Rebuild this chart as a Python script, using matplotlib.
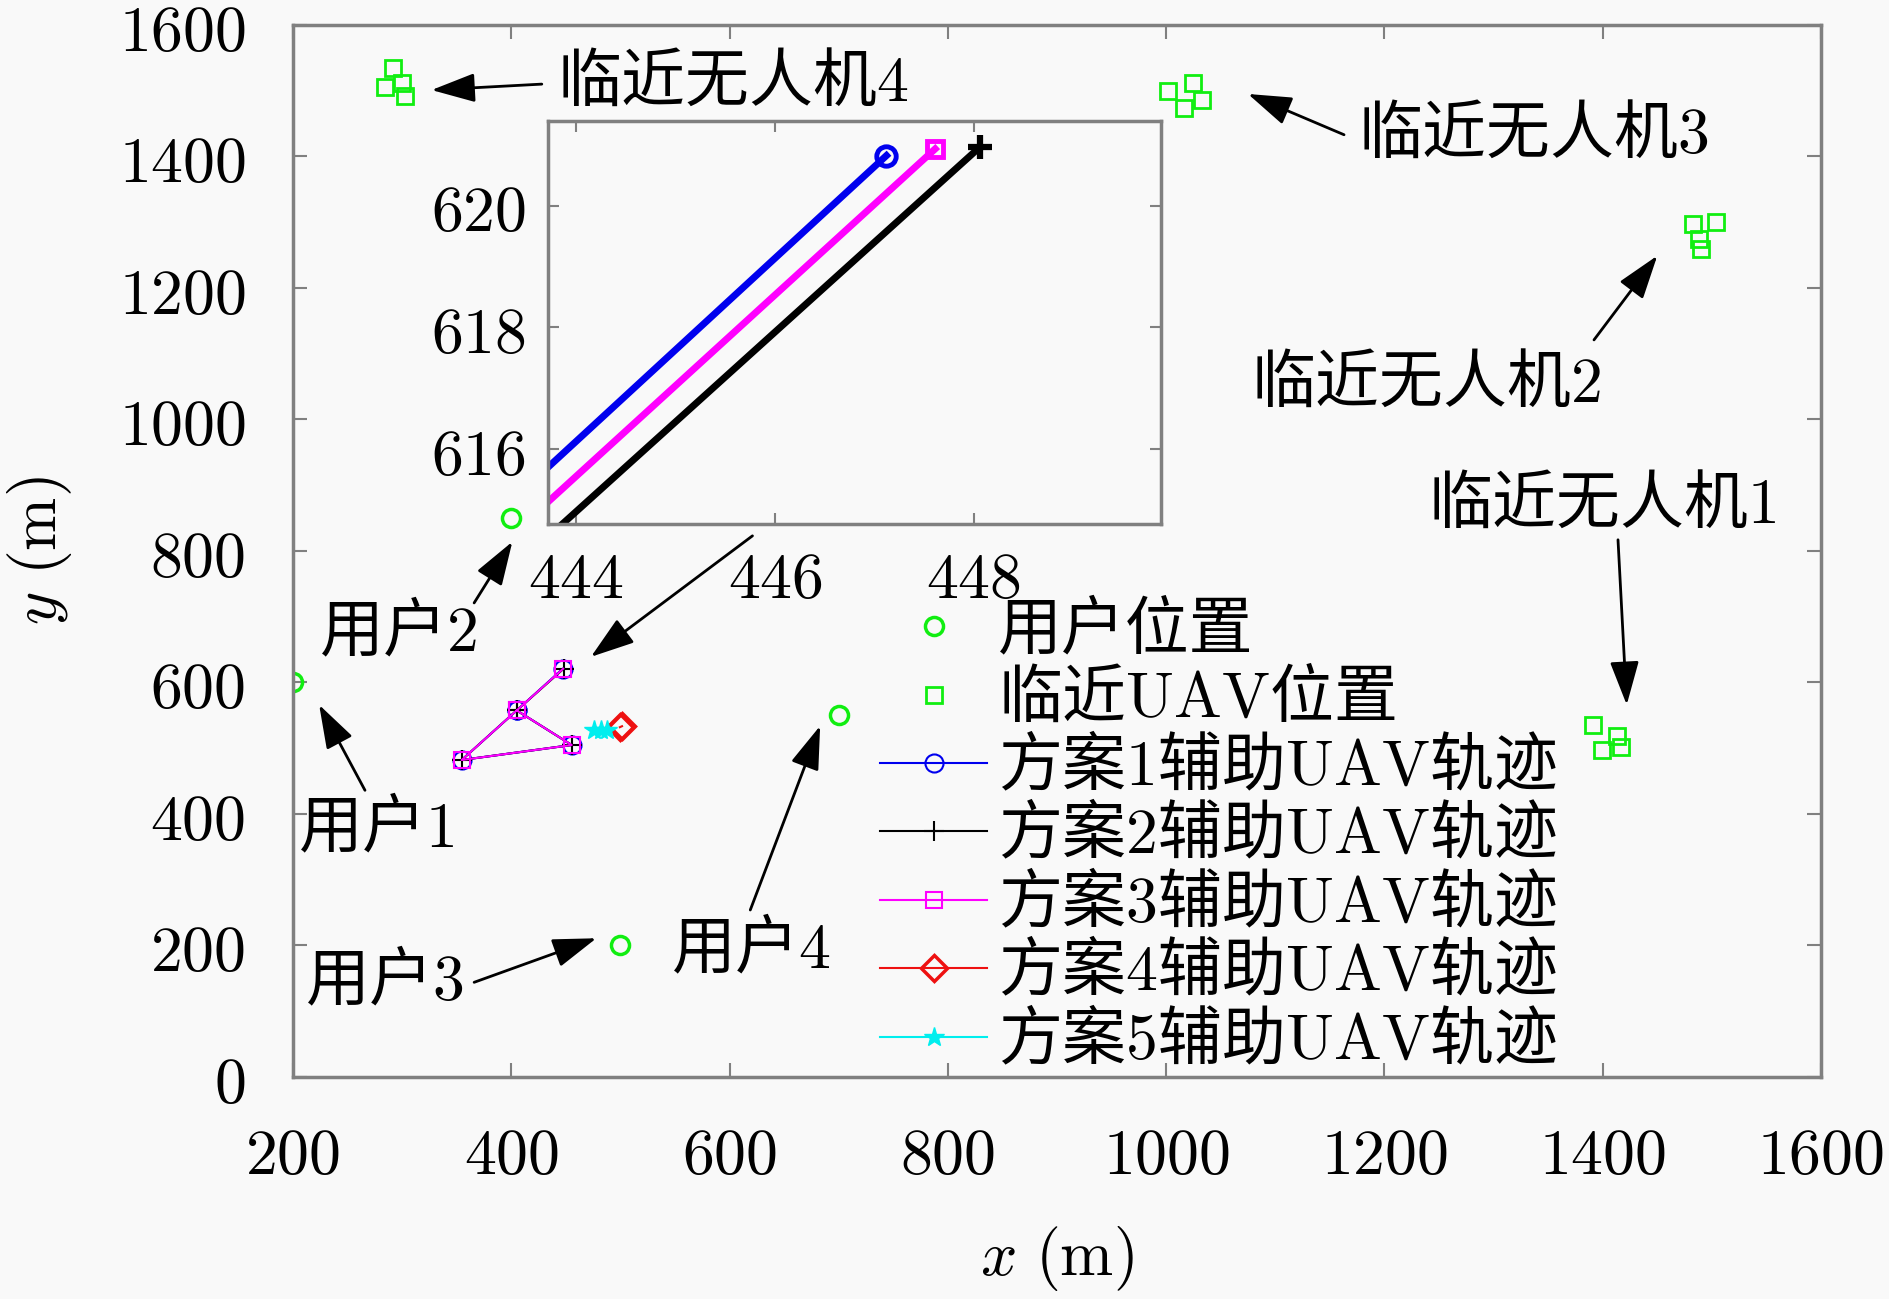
import numpy as np
import matplotlib
matplotlib.use('Agg')
import matplotlib.pyplot as plt
from matplotlib.ticker import FuncFormatter

plt.rcParams['font.family'] = ['Noto Sans CJK SC', 'DejaVu Sans']
plt.rcParams['mathtext.fontset'] = 'cm'

# user positions
user_x = [200, 400, 500, 700]
user_y = [600, 850, 200, 550]

# neighbour UAV positions (four clusters)
nb_x = [1391, 1413, 1399, 1417, 1483, 1504, 1488, 1490,
        1002, 1025, 1016, 1033, 292, 284, 300, 303]
nb_y = [535, 518, 498, 502, 1298, 1301, 1275, 1260,
        1499, 1511, 1473, 1486, 1534, 1506, 1511, 1492]

# assisting UAV trajectories for the five schemes
s1_x = [447.12, 405.0, 354.6, 455.4, 405.0]
s1_y = [620.82, 557.5, 482.1, 504.9, 557.5]
s2_x = [448.06, 405.0, 354.6, 455.4, 405.0]
s2_y = [620.96, 557.5, 482.1, 504.9, 557.5]
s3_x = [447.61, 405.0, 354.6, 455.4, 405.0]
s3_y = [620.93, 557.5, 482.1, 504.9, 557.5]
s4_x = [499.5, 501.5]
s4_y = [532.0, 533.5]
s5_x = [476.0, 482.0, 488.0]
s5_y = [527.0, 527.5, 528.0]

labels = ['用户位置', '临近$\\mathrm{UAV}$位置',
          '方案$1$辅助$\\mathrm{UAV}$轨迹', '方案$2$辅助$\\mathrm{UAV}$轨迹',
          '方案$3$辅助$\\mathrm{UAV}$轨迹', '方案$4$辅助$\\mathrm{UAV}$轨迹',
          '方案$5$辅助$\\mathrm{UAV}$轨迹']

FS = 46
BG = '#f9f9f9'
GREEN = '#11ee11'
SPINE = '#808080'

fig = plt.figure(figsize=(18.9, 12.99), dpi=100, facecolor=BG)
ax = fig.add_axes([0.155, 0.1709, 0.8085, 0.8099], facecolor=BG)

ax.plot(user_x, user_y, 'o', color=GREEN, mfc='none', ms=13, mew=2.5, label=labels[0])
ax.plot(nb_x, nb_y, 's', color=GREEN, mfc='none', ms=12, mew=2, label=labels[1])
ax.plot(s1_x, s1_y, '-o', color='#0000ee', mfc='none', ms=13, mew=1.5, lw=1.5, label=labels[2])
ax.plot(s2_x, s2_y, '-+', color='k', ms=15, mew=1.5, lw=1.5, label=labels[3])
ax.plot(s3_x, s3_y, '-s', color='#ff00ff', mfc='none', ms=12, mew=1.5, lw=1.5, label=labels[4])
ax.plot(s4_x, s4_y, '-D', color='#ee1111', mfc='none', ms=13, mew=2.5, lw=1.5, label=labels[5])
ax.plot(s5_x, s5_y, '-*', color='#00eeee', ms=15, lw=1.5, label=labels[6])

ax.set_xlim(200, 1600)
ax.set_ylim(0, 1600)
ax.set_xticks(np.arange(200, 1601, 200))
ax.set_yticks(np.arange(0, 1601, 200))
fmt = FuncFormatter(lambda v, p: f'${v:.0f}$')
ax.xaxis.set_major_formatter(fmt)
ax.yaxis.set_major_formatter(fmt)
ax.tick_params(direction='in', length=10, width=1.5, color=SPINE,
               top=True, right=True, labelsize=FS)
ax.tick_params(axis='x', pad=33)
ax.tick_params(axis='y', pad=34)
for s in ax.spines.values():
    s.set_color(SPINE)
    s.set_linewidth(2.5)

ax.set_xlabel(r'$x\ \mathrm{(m)}$', fontsize=FS)
ax.set_ylabel(r'$y\ \mathrm{(m)}$', fontsize=FS)
ax.xaxis.set_label_coords(0.5, -0.14)
ax.yaxis.set_label_coords(-0.143, 0.5)

# annotations: (text, text pos, arrow tail, arrow head)
notes = [
    ('临近无人机$4$', (442, 1513), (428, 1510), (327, 1501)),
    ('临近无人机$3$', (1176, 1433), (1163, 1433), (1075, 1495)),
    ('临近无人机$2$', (1078, 1055), (1392, 1121), (1450, 1249)),
    ('临近无人机$1$', (1240, 871), (1414, 817), (1422, 566)),
    ('用户$2$', (224, 675), (366, 721), (401, 814)),
    ('用户$1$', (205, 377), (266, 436), (224, 566)),
    ('用户$3$', (211, 144), (366, 144), (478, 211)),
    ('用户$4$', (546, 193), (619, 254), (683, 534)),
]
aprops = dict(arrowstyle='-|>,head_length=0.9,head_width=0.3', color='k',
              lw=2, mutation_scale=30, shrinkA=0, shrinkB=0)
for txt, tpos, tail, head in notes:
    ax.text(tpos[0], tpos[1], txt, fontsize=FS, ha='left', va='center')
    ax.annotate('', xy=head, xytext=tail, arrowprops=aprops)
# arrow pointing from the inset to the zoomed point
ax.annotate('', xy=(473, 639), xytext=(621, 823), arrowprops=aprops)

leg = ax.legend(loc='upper left', bbox_to_anchor=(0.4656, 0.5404),
                bbox_transform=fig.transFigure, frameon=False, fontsize=FS,
                borderpad=0, borderaxespad=0, handlelength=1.68,
                handletextpad=0.17, labelspacing=0.03)

# inset zoom
axi = fig.add_axes([0.2902, 0.5966, 0.324, 0.3099], facecolor=BG)
axi.plot(s1_x, s1_y, '-o', color='#0000ee', mfc='none', ms=14, mew=3.5, lw=5)
axi.plot(s3_x, s3_y, '-s', color='#ff00ff', mfc='none', ms=12, mew=3.5, lw=5)
axi.plot(s2_x, s2_y, '-+', color='k', ms=17, mew=4.5, lw=5)
axi.set_xlim(443.72, 449.88)
axi.set_ylim(614.77, 621.38)
axi.set_xticks([444, 446, 448])
axi.set_yticks([616, 618, 620])
axi.xaxis.set_major_formatter(fmt)
axi.yaxis.set_major_formatter(fmt)
axi.tick_params(direction='in', length=8, width=1.5, color=SPINE,
                top=True, right=True, labelsize=FS)
axi.tick_params(axis='x', pad=16)
axi.tick_params(axis='y', pad=16)
for s in axi.spines.values():
    s.set_color(SPINE)
    s.set_linewidth(2.5)

fig.savefig('out.png', dpi=100, facecolor=BG)
